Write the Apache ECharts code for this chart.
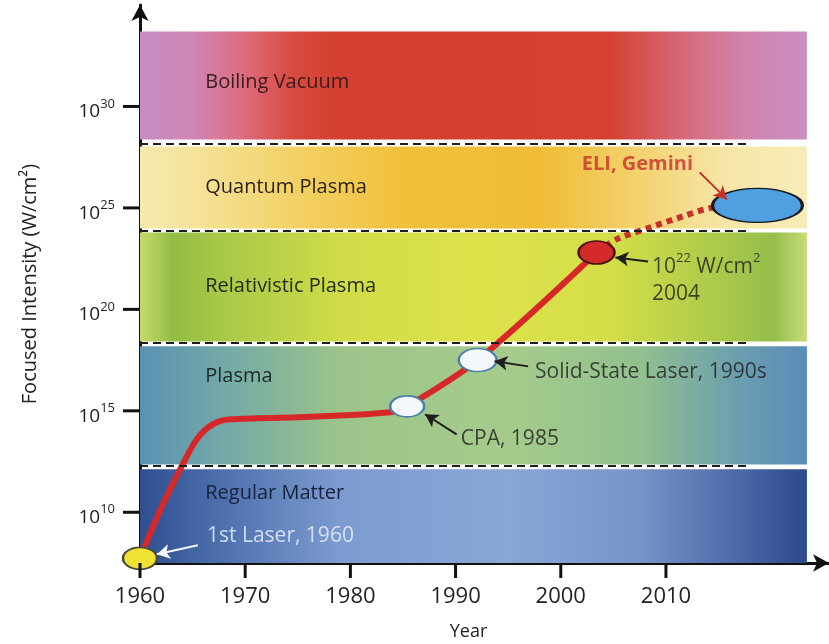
<!DOCTYPE html>
<html>
<head>
<meta charset="utf-8">
<script src="https://cdn.jsdelivr.net/npm/echarts@6/dist/echarts.min.js"></script>
<style>
  html, body { margin: 0; padding: 0; background: #fff; }
  #main { width: 829px; height: 644px; }
</style>
</head>
<body>
<div id="main"></div>
<script>
// intensity is kept as the exponent n of 10^n W/cm2
var yearTicks = [1960, 1970, 1980, 1990, 2000, 2010];
var expTicks = [10, 15, 20, 25, 30];

// regimes (top / bottom of each band, exponent)
var bandNames = ['Boiling Vacuum', 'Quantum Plasma', 'Relativistic Plasma', 'Plasma', 'Regular Matter'];
var bandTop = [33.69, 28.03, 23.79, 18.18, 12.12];
var bandBottom = [28.37, 23.99, 18.42, 12.36, 7.5];
var bandLabelExp = [31.18, 26.0, 21.13, 16.7, 10.94];
var bandBorders = [28.18, 23.89, 18.33, 12.27];

// laser intensity history
var curveYears = [1960, 1962, 1964, 1965.4, 1966.9, 1968.6, 1975, 1983.8, 1985.4, 1992.1, 2003.4];
var curveExp = [7.75, 10.2, 12.3, 13.6, 14.33, 14.58, 14.68, 14.93, 15.22, 17.5, 22.8];
var futureYears = [2003.4, 2005.3, 2008.5, 2011.6, 2014.5, 2018.7];
var futureExp = [22.8, 23.45, 24.04, 24.58, 25.02, 25.12];

// milestones
var milestoneYears = [1960, 1985.4, 1992.1, 2003.4, 2018.7];
var milestoneExp = [7.73, 15.22, 17.5, 22.8, 25.12];

var X_MIN = 1960, Y_MIN = 7.5;
var bandX0 = 1960, bandX1 = 2023.4, borderX1 = 2017.8, labelX = 1966.2;

var bandStops = [
  [[0, '#c68cc4'], [0.08, '#cf86b4'], [0.15, '#dc6e82'], [0.23, '#d84a3e'], [0.3, '#d33f30'], [0.7, '#d5402f'], [0.82, '#d66a7a'], [0.9, '#d282a8'], [1, '#c98fc6']],
  [[0, '#f6eab0'], [0.08, '#f5e39a'], [0.25, '#f3cf60'], [0.4, '#f1c03a'], [0.6, '#f0bd35'], [0.75, '#f3d270'], [0.88, '#f6e6a8'], [1, '#f7ecb8']],
  [[0, '#c5da6a'], [0.05, '#93bd45'], [0.12, '#a8c848'], [0.3, '#d0dc48'], [0.5, '#dce24a'], [0.7, '#d5de48'], [0.88, '#a8c84a'], [0.95, '#95be4c'], [1, '#c8dc78']],
  [[0, '#5a92b2'], [0.12, '#72a8a8'], [0.3, '#9cc48a'], [0.55, '#a6cc8c'], [0.75, '#92c08e'], [0.9, '#6a9eb0'], [1, '#5a8cb8']],
  [[0, '#2f4f90'], [0.1, '#476aa8'], [0.3, '#7d9bd0'], [0.55, '#8aa6d6'], [0.75, '#7893c8'], [0.9, '#4a68a6'], [1, '#2c4a8a']]
];
var bandTextColors = ['#3a1a1e', '#2a2418', '#1f2a10', '#1a2a2a', '#18223c'];
var milestoneSizes = [[34, 22], [34, 21], [38, 23], [36, 23], [90, 34]];
var milestoneFill = ['#efe232', '#f4f8fc', '#f4f8fc', '#d42a2a', '#4ea0e0'];
var milestoneBorder = ['#4a4a3a', '#4a80a8', '#4a80a8', '#4a1414', '#1a1a22'];

var FONT = '"Open Sans", "Liberation Sans", sans-serif';

var myChart = echarts.init(document.getElementById('main'));

var bandData = bandNames.map(function (n, i) { return [bandTop[i], bandBottom[i], bandLabelExp[i]]; });

function arrow(from, to, color) {
  return [
    { coord: from, lineStyle: { color: color, width: 2, type: 'solid' } },
    { coord: to }
  ];
}

function note(year, exp, text, style) {
  return {
    value: [year, exp],
    label: Object.assign({ show: true, position: 'right', distance: 0, formatter: text }, style)
  };
}

// "10" with a raised exponent
function powRich(big, small, lh) {
  return {
    b: { fontSize: big, color: '#1e1e1e', fontFamily: FONT, lineHeight: lh, verticalAlign: 'bottom' },
    s: { fontSize: small, color: '#1e1e1e', fontFamily: FONT, lineHeight: small, verticalAlign: 'top' }
  };
}

var noteStyle = { color: '#1e1e1e', fontSize: 21, fontFamily: FONT };

option = {
  animation: false,
  grid: { left: 140, right: 0, top: 5, bottom: 81, outerBoundsMode: 'none' },
  xAxis: {
    type: 'value',
    min: X_MIN,
    max: 2025.5,
    name: 'Year',
    nameLocation: 'middle',
    nameGap: 60,
    nameTextStyle: { fontSize: 18, color: '#222', fontFamily: FONT, padding: [0, 32, 0, 0] },
    axisLine: { lineStyle: { color: '#111', width: 3 }, symbol: ['none', 'arrow'], symbolSize: [13, 16] },
    axisTick: { show: false },
    axisLabel: {
      customValues: yearTicks, margin: 23, fontSize: 22, color: '#222', fontFamily: FONT,
      formatter: function (v) { return String(v); }
    },
    splitLine: { show: false }
  },
  yAxis: {
    type: 'value',
    min: Y_MIN,
    max: 35,
    name: 'Focused Intensity (W/cm\u00b2)',
    nameLocation: 'middle',
    nameRotate: 90,
    nameGap: 100,
    nameTextStyle: { fontSize: 20, color: '#222', fontFamily: FONT },
    axisLine: { show: true, onZero: false, lineStyle: { color: '#111', width: 3 }, symbol: ['none', 'arrow'], symbolSize: [13, 16] },
    axisTick: { show: false },
    axisLabel: {
      customValues: expTicks,
      margin: 25,
      padding: [6, 0, 0, 0],
      formatter: function (v) { return '{b|10}{s|' + v + '}'; },
      rich: powRich(19, 13, 24)
    },
    splitLine: { show: false }
  },
  series: [
    {
      type: 'custom',
      z: 1,
      data: bandData,
      renderItem: function (params, api) {
        var i = params.dataIndex;
        var p1 = api.coord([bandX0, api.value(0)]);
        var p2 = api.coord([bandX1, api.value(1)]);
        var pt = api.coord([labelX, api.value(2)]);
        return {
          type: 'group',
          children: [
            {
              type: 'rect',
              shape: { x: p1[0], y: p1[1], width: p2[0] - p1[0], height: p2[1] - p1[1] },
              style: { fill: new echarts.graphic.LinearGradient(0, 0, 1, 0, bandStops[i].map(function (s) { return { offset: s[0], color: s[1] }; })) }
            },
            {
              type: 'text',
              style: {
                x: pt[0], y: pt[1], text: bandNames[i],
                fill: bandTextColors[i], font: '20px ' + FONT,
                verticalAlign: 'middle', align: 'left'
              }
            }
          ]
        };
      },
      silent: true
    },
    {
      type: 'line',
      z: 2,
      data: [],
      markLine: {
        silent: true,
        symbol: 'none',
        label: { show: false },
        lineStyle: { color: '#1e1e1e', width: 2, type: [8, 5] },
        data: bandBorders.map(function (v) { return [{ coord: [bandX0, v] }, { coord: [borderX1, v] }]; })
      }
    },
    {
      type: 'line',
      z: 3,
      smooth: 0.3,
      showSymbol: false,
      data: curveYears.map(function (y, i) { return [y, curveExp[i]]; }),
      lineStyle: { color: '#d62828', width: 6, cap: 'round' }
    },
    {
      type: 'line',
      z: 3,
      smooth: 0.3,
      showSymbol: false,
      data: futureYears.map(function (y, i) { return [y, futureExp[i]]; }),
      lineStyle: { color: '#c8302a', width: 6, type: [6, 5], cap: 'butt' }
    },
    {
      type: 'scatter',
      z: 4,
      data: milestoneYears.map(function (y, i) {
        return {
          value: [y, milestoneExp[i]],
          symbolSize: milestoneSizes[i],
          itemStyle: { color: milestoneFill[i], borderColor: milestoneBorder[i], borderWidth: 2, opacity: 1 }
        };
      })
    },
    {
      type: 'scatter',
      z: 5,
      symbolSize: 0,
      silent: true,
      data: [
        note(1966.37, 8.82, '1st Laser, 1960', Object.assign({}, noteStyle, { color: '#eef3fb' })),
        note(1990.5, 13.6, 'CPA, 1985', noteStyle),
        note(1997.55, 16.9, 'Solid-State Laser, 1990s', noteStyle),
        note(2008.67, 22.2, '{b|10}{s|22}{b| W/cm}{s|2}', Object.assign({}, noteStyle, { rich: powRich(21, 13, 26) })),
        note(2008.67, 20.74, '2004', noteStyle),
        note(2002.0, 27.14, 'ELI, Gemini', { color: '#c8302a', fontSize: 20, fontWeight: 'bold', fontFamily: FONT })
      ],
      markLine: {
        silent: true,
        symbol: ['none', 'arrow'],
        symbolSize: [11, 13],
        label: { show: false },
        data: [
          arrow([1965.5, 8.37], [1961.6, 7.93], '#f4f7fc'),
          arrow([1990.1, 13.84], [1987.1, 14.83], '#1e1e1e'),
          arrow([1996.9, 17.19], [1993.7, 17.44], '#1e1e1e'),
          arrow([2008.3, 22.36], [2005.2, 22.56], '#1e1e1e'),
          arrow([2013.2, 26.75], [2015.8, 25.42], '#c8302a')
        ]
      }
    }
  ]
};

myChart.setOption(option);

// tick marks outside the plot, placed with the chart's own scales
var ticks = [];
yearTicks.forEach(function (y) {
  var p = myChart.convertToPixel({ gridIndex: 0 }, [y, Y_MIN]);
  ticks.push({
    type: 'line', silent: true, z: 10,
    shape: { x1: p[0], y1: p[1], x2: p[0], y2: p[1] + 15 },
    style: { stroke: '#111', lineWidth: 3 }
  });
});
expTicks.forEach(function (e) {
  var p = myChart.convertToPixel({ gridIndex: 0 }, [X_MIN, e]);
  ticks.push({
    type: 'line', silent: true, z: 10,
    shape: { x1: p[0] - 17, y1: p[1], x2: p[0], y2: p[1] },
    style: { stroke: '#111', lineWidth: 3 }
  });
});
myChart.setOption({ graphic: ticks });
</script>
</body>
</html>
